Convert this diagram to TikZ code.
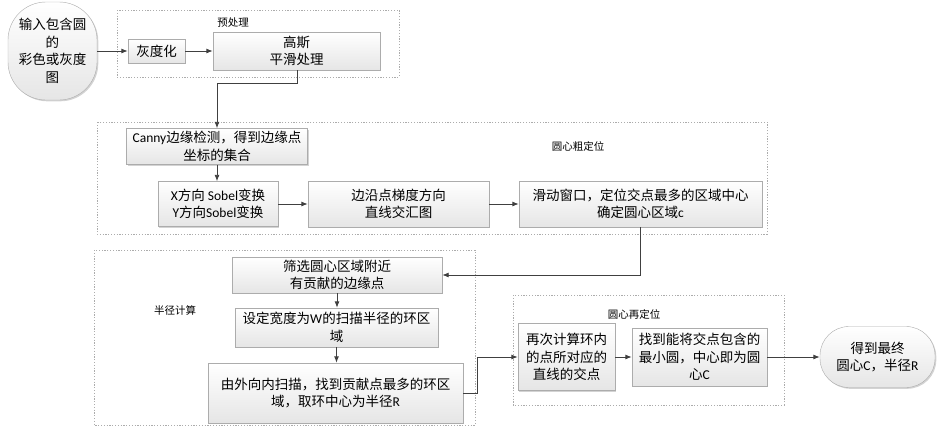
\documentclass[tikz,border=0pt]{standalone}
\usepackage{fontspec}
\setmainfont{Noto Sans CJK SC}
\newfontfamily\lat{Carlito}
\usetikzlibrary{arrows.meta,shadows}
\begin{document}
\begin{tikzpicture}[x=1pt,y=-1pt,
  box/.style={draw=gray!65, top color=white, bottom color=gray!20,
    drop shadow={shadow xshift=1.3pt,shadow yshift=-1.3pt,opacity=0.35},
    font=\fontsize{13.5}{17.5}\selectfont, align=center, inner sep=1pt},
  stadium/.style={box},
  grp/.style={draw=gray!65, dash pattern=on 1.2pt off 1.6pt, line width=0.6pt},
  lbl/.style={font=\fontsize{10.5}{12}\selectfont, inner sep=0pt},
  arr/.style={-{Latex[length=6.5pt,width=5pt]}, draw=black!75, line width=0.9pt}]
\useasboundingbox (0,0) rectangle (942,429);
% group frames
\draw[grp] (117,10) rectangle (399,77);
\node[lbl] (lpre) at (233,23) {预处理};
\draw[grp] (97,122) rectangle (767,234);
\node[lbl] (lcoarse) at (578,146) {圆心粗定位};
\draw[grp] (94,250) rectangle (475,425);
\node[lbl] (lrad) at (175,310) {半径计算};
\draw[grp] (513,295) rectangle (784,405);
\node[lbl] (lrel) at (634,314) {圆心再定位};
% nodes
\node[stadium, rounded corners=38pt, minimum width=89, minimum height=98] (start) at (52.5,51)
  {输入包含圆\\的\\彩色或灰度\\图};
\node[box, minimum width=57, minimum height=24] (gray) at (156.5,51) {灰度化};
\node[box, minimum width=167, minimum height=38] (gauss) at (296.5,51) {高斯\\平滑处理};
\node[box, minimum width=181, minimum height=36] (canny) at (217,146.5) {{\lat Canny}边缘检测，得到边缘点\\坐标的集合};
\node[box, minimum width=120, minimum height=45] (sobel) at (218,204) {{\lat X}方向 {\lat Sobel}变换\\{\lat Y}方向{\lat Sobel}变换};
\node[box, minimum width=181, minimum height=46] (edge) at (398.5,204) {边沿点梯度方向\\直线交汇图};
\node[box, minimum width=243, minimum height=46] (slide) at (640.5,204) {滑动窗口，定位交点最多的区域中心\\确定圆心区域{\lat c}};
\node[box, minimum width=210, minimum height=36] (filter) at (337,275) {筛选圆心区域附近\\有贡献的边缘点};
\node[box, minimum width=203, minimum height=39] (set) at (336.5,327.5) {设定宽度为{\lat W}的扫描半径的环区\\域};
\node[box, minimum width=255, minimum height=60] (scan) at (335.5,393) {由外向内扫描，找到贡献点最多的环区\\域，取环中心为半径{\lat R}};
\node[box, minimum width=97, minimum height=67] (recalc) at (566.5,357) {再次计算环内\\的点所对应的\\直线的交点};
\node[box, minimum width=135, minimum height=58] (find) at (699.5,357) {找到能将交点包含的\\最小圆，中心即为圆\\心{\lat C}};
\node[stadium, rounded corners=29pt, minimum width=115, minimum height=61] (end) at (877.5,357) {得到最终\\圆心{\lat C}，半径{\lat R}};
% connectors
\coordinate (k1) at (297,83);
\coordinate (k2) at (477,393);
\draw[arr] (start) -- (gray);
\draw[arr] (gray) -- (gauss);
\draw[arr] (gauss.south -| k1) -- (k1) -| (canny.north);
\draw[arr] (canny.south) -- (canny.south |- sobel.north);
\draw[arr] (sobel) -- (edge);
\draw[arr] (edge) -- (slide);
\draw[arr] (slide.south) |- (filter.east);
\draw[arr] (filter.south) -- (filter.south |- set.north);
\draw[arr] (set.south) -- (set.south |- scan.north);
\draw[arr] (scan.east) -- (k2) |- (recalc.west);
\draw[arr] (recalc) -- (find);
\draw[arr] (find) -- (end);
\end{tikzpicture}
\end{document}
